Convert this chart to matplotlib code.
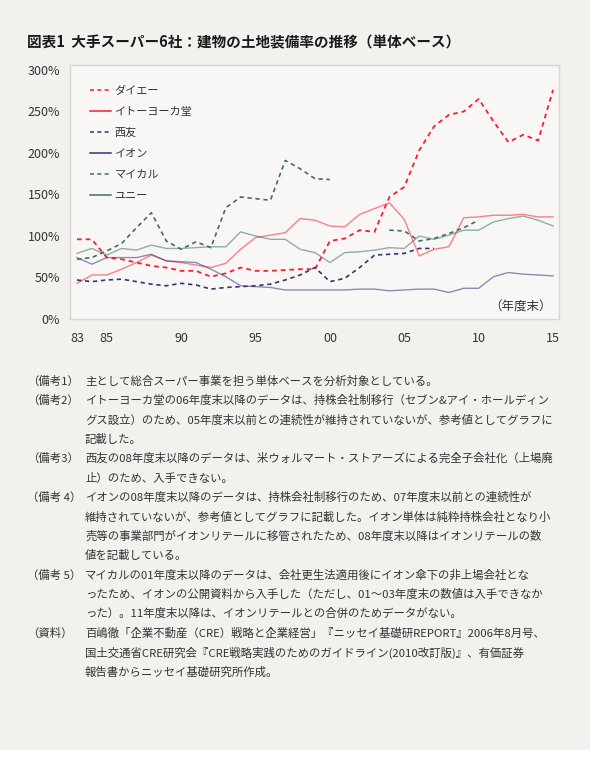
import matplotlib
matplotlib.use("Agg")
import matplotlib.pyplot as plt
from matplotlib.patches import Rectangle
import numpy as np

plt.rcParams['font.family'] = ['Noto Sans CJK JP', 'DejaVu Sans']

nan = np.nan
years = list(range(1983, 2016))

# 建物の土地装備率 (%), 83〜15年度末
daiei = [96, 96, 74, 72, 68, 64, 62, 58, 58, 51, 55, 62, 58, 58, 59, 60, 60,
         94, 97, 107, 105, 147, 159, 203, 232, 246, 250, 265, 238, 213, 222, 215, 276]
ito = [43, 53, 53, 60, 68, 77, 70, 68, 65, 62, 67, 84, 98, 101, 104, 121, 119,
       112, 111, 126, 133, 140, 120, 76, 84, 87, 122, 123, 125, 125, 126, 123, 123]
seiyu = [47, 45, 47, 48, 45, 42, 40, 43, 41, 36, 38, 39, 40, 42, 47, 53, 62,
         45, 49, 62, 77, 78, 79, 85, 85, nan, nan, nan, nan, nan, nan, nan, nan]
aeon = [74, 66, 74, 74, 74, 78, 70, 69, 68, 60, 51, 40, 39, 38, 35, 35, 35,
        35, 35, 36, 36, 34, 35, 36, 36, 32, 37, 37, 51, 56, 54, 53, 52]
mycal = [72, 74, 82, 91, 110, 128, 94, 84, 93, 86, 134, 147, 145, 143, 191, 181, 169,
         168, nan, nan, nan, 107, 106, 94, 97, 103, 110, 119, nan, nan, nan, nan, nan]
uny = [79, 85, 77, 85, 83, 89, 85, 85, 86, 87, 87, 105, 100, 96, 96, 84, 80,
       68, 80, 81, 83, 86, 85, 100, 96, 101, 107, 107, 117, 121, 124, 119, 112]

x_ticks = [1983, 1985, 1990, 1995, 2000, 2005, 2010, 2015]
x_labels = ["83", "85", "90", "95", "00", "05", "10", "15"]
y_ticks = [0, 50, 100, 150, 200, 250, 300]

title = "図表1  大手スーパー6社：建物の土地装備率の推移（単体ベース）"

notes = [
    ("（備考1）", ["主として総合スーパー事業を担う単体ベースを分析対象としている。"]),
    ("（備考2）", ["イトーヨーカ堂の06年度末以降のデータは、持株会社制移行（セブン&アイ・ホールディン",
                 "グス設立）のため、05年度末以前との連続性が維持されていないが、参考値としてグラフに",
                 "記載した。"]),
    ("（備考3）", ["西友の08年度末以降のデータは、米ウォルマート・ストアーズによる完全子会社化（上場廃",
                 "止）のため、入手できない。"]),
    ("（備考 4）", ["イオンの08年度末以降のデータは、持株会社制移行のため、07年度末以前との連続性が",
                  "維持されていないが、参考値としてグラフに記載した。イオン単体は純粋持株会社となり小",
                  "売等の事業部門がイオンリテールに移管されたため、08年度末以降はイオンリテールの数",
                  "値を記載している。"]),
    ("（備考 5）", ["マイカルの01年度末以降のデータは、会社更生法適用後にイオン傘下の非上場会社とな",
                  "ったため、イオンの公開資料から入手した（ただし、01～03年度末の数値は入手できなか",
                  "った）。11年度末以降は、イオンリテールとの合併のためデータがない。"]),
    ("（資料）", ["百嶋徹「企業不動産（CRE）戦略と企業経営」『ニッセイ基礎研REPORT』2006年8月号、",
                "国土交通省CRE研究会『CRE戦略実践のためのガイドライン(2010改訂版)』、有価証券",
                "報告書からニッセイ基礎研究所作成。"]),
]

W, H = 600, 766
fig = plt.figure(figsize=(W / 100, H / 100), dpi=100)
fig.patch.set_facecolor("white")

# 背景カード
fig.patches.append(Rectangle((0, 1 - 750 / H), 590 / W, 750 / H, transform=fig.transFigure,
                             facecolor="#f3f1ee", edgecolor="none", zorder=-10))

ax = fig.add_axes([70 / W, 1 - 319 / H, 489 / W, 254 / H])
ax.set_facecolor("#f8f7f5")

red = "#ff1a2e"
navy = "#35327a"
teal = "#3d6e68"
dash = (0, (2.6, 2.2))

series = [
    ("ダイエー", daiei, red, dash, 1.3, 1.0),
    ("イトーヨーカ堂", ito, red, "-", 1.0, 0.55),
    ("西友", seiyu, navy, dash, 1.2, 1.0),
    ("イオン", aeon, navy, "-", 1.0, 0.55),
    ("マイカル", mycal, teal, dash, 1.2, 1.0),
    ("ユニー", uny, teal, "-", 1.0, 0.55),
]
for name, vals, c, ls, lw, a in series:
    ax.plot(years, vals, color=c, linestyle=ls, linewidth=lw, alpha=a, label=name)

ax.set_xlim(1982.53, 2015.4)
ax.set_ylim(0, 306)
ax.set_xticks(x_ticks)
ax.set_xticklabels(x_labels)
ax.set_yticks(y_ticks)
ax.set_yticklabels([f"{v}%" for v in y_ticks])
ax.tick_params(axis="both", length=0, labelsize=9, labelcolor="#333333")
ax.tick_params(axis="x", pad=9)
ax.tick_params(axis="y", pad=7)
for s in ax.spines.values():
    s.set_color("#d6d6d6")
    s.set_linewidth(1.0)

leg = ax.legend(loc="upper left", bbox_to_anchor=(20 / 489, 1 - 21 / 254), frameon=False,
                fontsize=8, handlelength=1.9, handletextpad=0.3, labelspacing=0.98,
                borderaxespad=0, borderpad=0)
for ln in leg.get_lines():
    ln.set_alpha(1.0)
    ln.set_linewidth(1.1)
for t in leg.get_texts():
    t.set_color("#333333")

ax.text(0.986, 0.047, "（年度末）", transform=ax.transAxes, ha="right", va="center",
        fontsize=9, color="#333333")

fig.text(27 / W, 1 - 42 / H, title, fontsize=10.5, fontweight="bold", va="center",
         color="#1a1a1a")

y = 381
step = 19.4
for label, lines in notes:
    fig.text(27 / W, 1 - y / H, label, fontsize=8.2, va="center", color="#333333")
    for line in lines:
        fig.text(85 / W, 1 - y / H, line, fontsize=8.2, va="center", color="#333333")
        y += step

fig.savefig("out.png", dpi=100, facecolor=fig.get_facecolor())
